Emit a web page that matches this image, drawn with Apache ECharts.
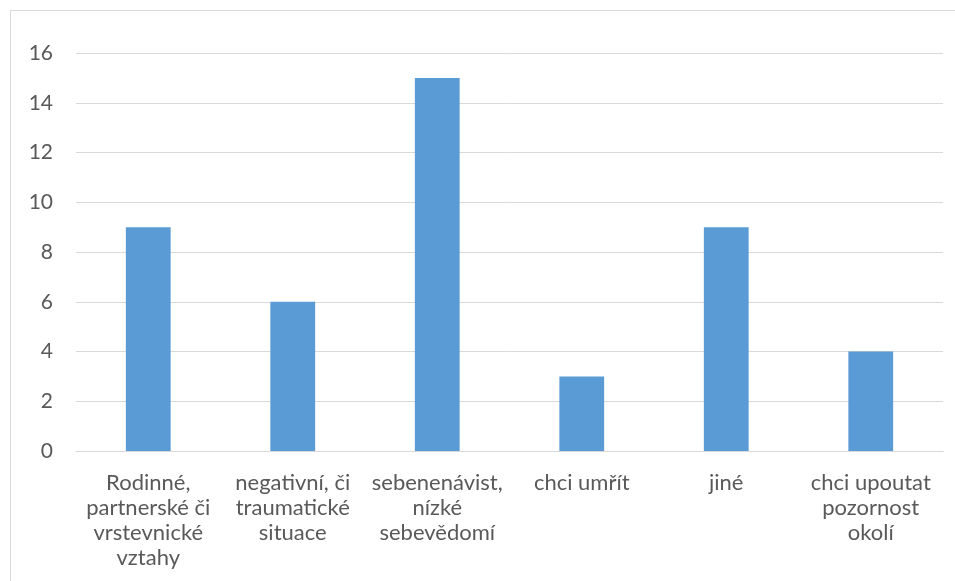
<!DOCTYPE html>
<html>
<head>
<meta charset="utf-8">
<script src="https://cdn.jsdelivr.net/npm/echarts@6/dist/echarts.min.js"></script>
<style>
html,body{margin:0;padding:0;background:#fff;overflow:hidden;}
#frame{position:absolute;left:10px;top:10px;width:1000px;height:700px;border:1px solid #d9d9d9;box-sizing:border-box;}
#chart{position:absolute;left:0;top:0;width:955px;height:581px;}
</style>
</head>
<body>
<div id="frame"></div>
<div id="chart"></div>
<script>
const categories = [
  'Rodinné,\npartnerské či\nvrstevnické\nvztahy',
  'negativní, či\ntraumatické\nsituace',
  'sebenenávist,\nnízké\nsebevědomí',
  'chci umřít',
  'jiné',
  'chci upoutat\npozornost\nokolí'
];
const values = [9, 6, 15, 3, 9, 4];
const yMin = 0, yMax = 16, yStep = 2;

const chart = echarts.init(document.getElementById('chart'), null, {renderer: 'canvas'});
chart.setOption({
  animation: false,
  backgroundColor: 'transparent',
  grid: {left: 76, right: 12, top: 53, bottom: 130, containLabel: false},
  xAxis: {
    type: 'category',
    data: categories,
    axisLine: {lineStyle: {color: '#d9d9d9', width: 1}},
    axisTick: {show: false},
    axisLabel: {
      interval: 0,
      color: '#595959',
      fontFamily: 'Lato',
      fontSize: 22,
      lineHeight: 25,
      margin: 19,
      align: 'center'
    }
  },
  yAxis: {
    type: 'value',
    min: yMin, max: yMax, interval: yStep,
    axisLine: {show: false},
    axisTick: {show: false},
    splitLine: {lineStyle: {color: '#d9d9d9', width: 1}},
    axisLabel: {color: '#595959', fontFamily: 'Lato', fontSize: 21, margin: 23}
  },
  series: [{
    type: 'bar',
    data: values,
    barWidth: '31%',
    itemStyle: {color: '#5B9BD5'}
  }]
});
</script>
</body>
</html>
